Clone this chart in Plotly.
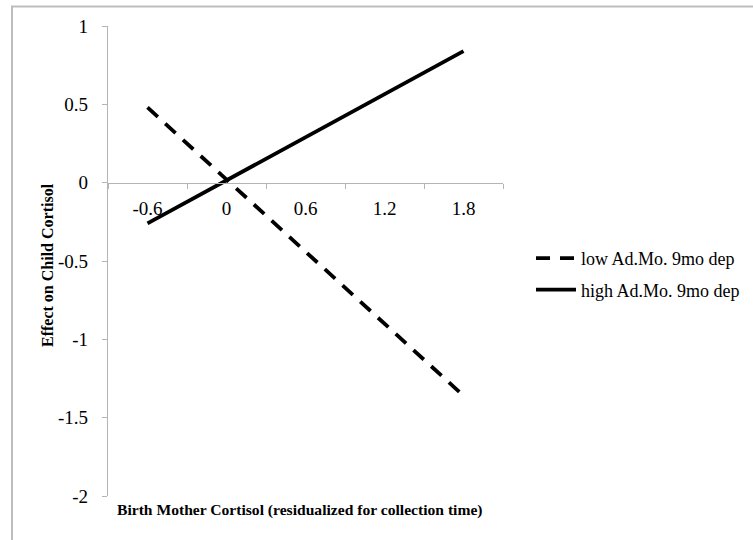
import plotly.graph_objects as go

# ---- data ----
x_categories = ["-0.6", "0", "0.6", "1.2", "1.8"]
low_values = [0.48, 0.02, -0.44, -0.90, -1.36]
high_values = [-0.26, 0.015, 0.29, 0.565, 0.84]
series_names = ["low Ad.Mo. 9mo dep", "high Ad.Mo. 9mo dep"]
y_tick_values = [1, 0.5, 0, -0.5, -1, -1.5, -2]
y_tick_text = ["1", "0.5", "0", "-0.5", "-1", "-1.5", "-2"]
x_title = "Birth Mother Cortisol (residualized for collection time)"
y_title = "Effect on Child Cortisol"

FONT = "Liberation Serif"
AXIS_GRAY = "#b4b4b4"

W, H = 753, 540
ML, MR, MT, MB = 108, 250, 26, 44
PW = W - ML - MR
PH = H - MT - MB

fig = go.Figure()
fig.add_trace(go.Scatter(
    x=x_categories, y=low_values, mode="lines", name=series_names[0],
    legendgroup="low",
    line=dict(color="black", width=3.8, dash="14px,10px"),
))
fig.add_trace(go.Scatter(
    x=x_categories, y=high_values, mode="lines", name=series_names[1],
    legendgroup="high",
    line=dict(color="black", width=3.8),
))

ymin, ymax = -2, 1
fig.update_layout(
    width=W, height=H,
    margin=dict(l=ML, r=MR, t=MT, b=MB, autoexpand=False),
    paper_bgcolor="white", plot_bgcolor="white",
    font=dict(family=FONT, size=18, color="black"),
    showlegend=True,
    legend=dict(
        x=(531 - ML) / PW, xanchor="left",
        y=1 - (240 - MT) / PH, yanchor="top",
        font=dict(family=FONT, size=18, color="black"),
        bgcolor="rgba(0,0,0,0)",
        traceorder="grouped",
        tracegroupgap=5,
        itemwidth=40,
    ),
    xaxis=dict(
        type="category",
        categoryorder="array", categoryarray=x_categories,
        range=[-0.5, len(x_categories) - 0.5],
        anchor="free", position=(0 - ymin) / (ymax - ymin),
        showline=True, linecolor=AXIS_GRAY, linewidth=1.3,
        ticks="outside", tickson="boundaries", ticklen=5, tickcolor=AXIS_GRAY, tickwidth=1.3,
        ticklabelstandoff=8,
        showgrid=False, zeroline=False,
        tickfont=dict(family=FONT, size=19, color="black"),
    ),
    yaxis=dict(
        range=[ymin, ymax],
        tickvals=y_tick_values, ticktext=y_tick_text,
        showline=True, linecolor=AXIS_GRAY, linewidth=1.3,
        ticks="outside", ticklen=5, tickcolor=AXIS_GRAY, tickwidth=1.3,
        ticklabelstandoff=10,
        showgrid=False, zeroline=False,
        tickfont=dict(family=FONT, size=19, color="black"),
    ),
)

# axis titles
fig.add_annotation(
    text=f"<b>{x_title}</b>", xref="paper", yref="paper",
    x=(115 - ML) / PW, xanchor="left",
    y=-(510 - (MT + PH)) / PH, yanchor="middle",
    showarrow=False, font=dict(family=FONT, size=15.6, color="black"),
)
fig.add_annotation(
    text=f"<b>{y_title}</b>", xref="paper", yref="paper",
    x=(47 - ML) / PW, xanchor="center",
    y=1 - (265 - MT) / PH, yanchor="middle",
    textangle=-90,
    showarrow=False, font=dict(family=FONT, size=16, color="black"),
)

# chart-area frame: only the top and left edges fall inside the picture
fx0 = (12 - ML) / PW
fy1 = 1 + (MT - 6.5) / PH
fig.add_shape(
    type="path", xref="paper", yref="paper",
    path=f"M {fx0} {-(H + 50 - (MT + PH)) / PH} L {fx0} {fy1} L {(W + 50 - ML) / PW} {fy1}",
    line=dict(color="#bdbdbd", width=2),
    layer="below",
)

fig.write_html("out.html")
